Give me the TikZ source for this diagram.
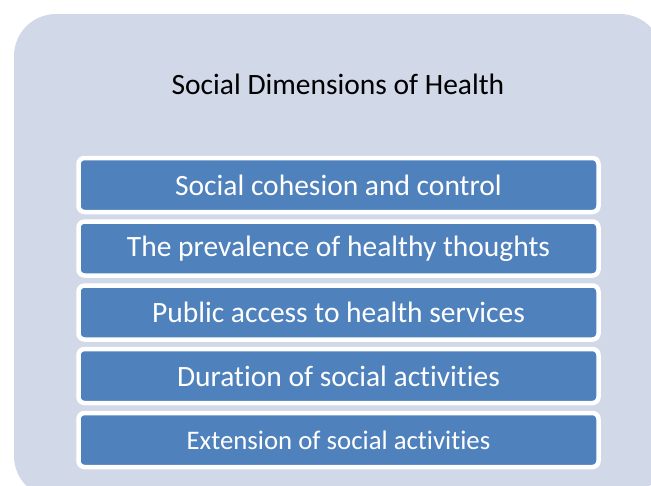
\documentclass[tikz,border=0pt]{standalone}
\usepackage{fontspec}
\setmainfont{Carlito}[Ligatures={NoCommon}]
\usepackage{tikz}
\usetikzlibrary{calc}
\definecolor{panelgrey}{HTML}{D1D8E7}
\definecolor{itemblue}{HTML}{4F81BD}
\tikzset{
	itembox/.style={draw=white, line width=4.5pt, fill=itemblue, rounded corners=6pt,
		minimum width=520pt, minimum height=54pt, inner sep=0pt, text=white,
		font=\fontsize{29.5}{34}\selectfont},
}

\begin{document}
\begin{tikzpicture}[x=1pt, y=-1pt]
			%%%%% START %%%%%
			
			\useasboundingbox (0, 0) rectangle (651, 485);
			\clip (0, 0) rectangle (651, 485);
			
			\draw[fill=panelgrey, draw=none, rounded corners=42pt] (14, 14) rectangle (662, 498);
			
			\node[font=\fontsize{29.5}{34}\selectfont] (title) at (338, 84) {Social Dimensions of Health};
			
			\node[itembox] (cohesion) at (338.5, 185) {Social cohesion and control};
			\node[itembox] (thoughts) at (338.5, 248.5) {The prevalence of healthy thoughts};
			\node[itembox] (access) at (338.5, 312.5) {Public access to health services};
			\node[itembox] (duration) at (338.5, 376) {Duration of social activities};
			\node[itembox, font=\fontsize{26.8}{31}\selectfont] (extension) at (338.5, 440) {Extension of social activities};
			
			%%%%% END %%%%%
		\end{tikzpicture}
\end{document}
